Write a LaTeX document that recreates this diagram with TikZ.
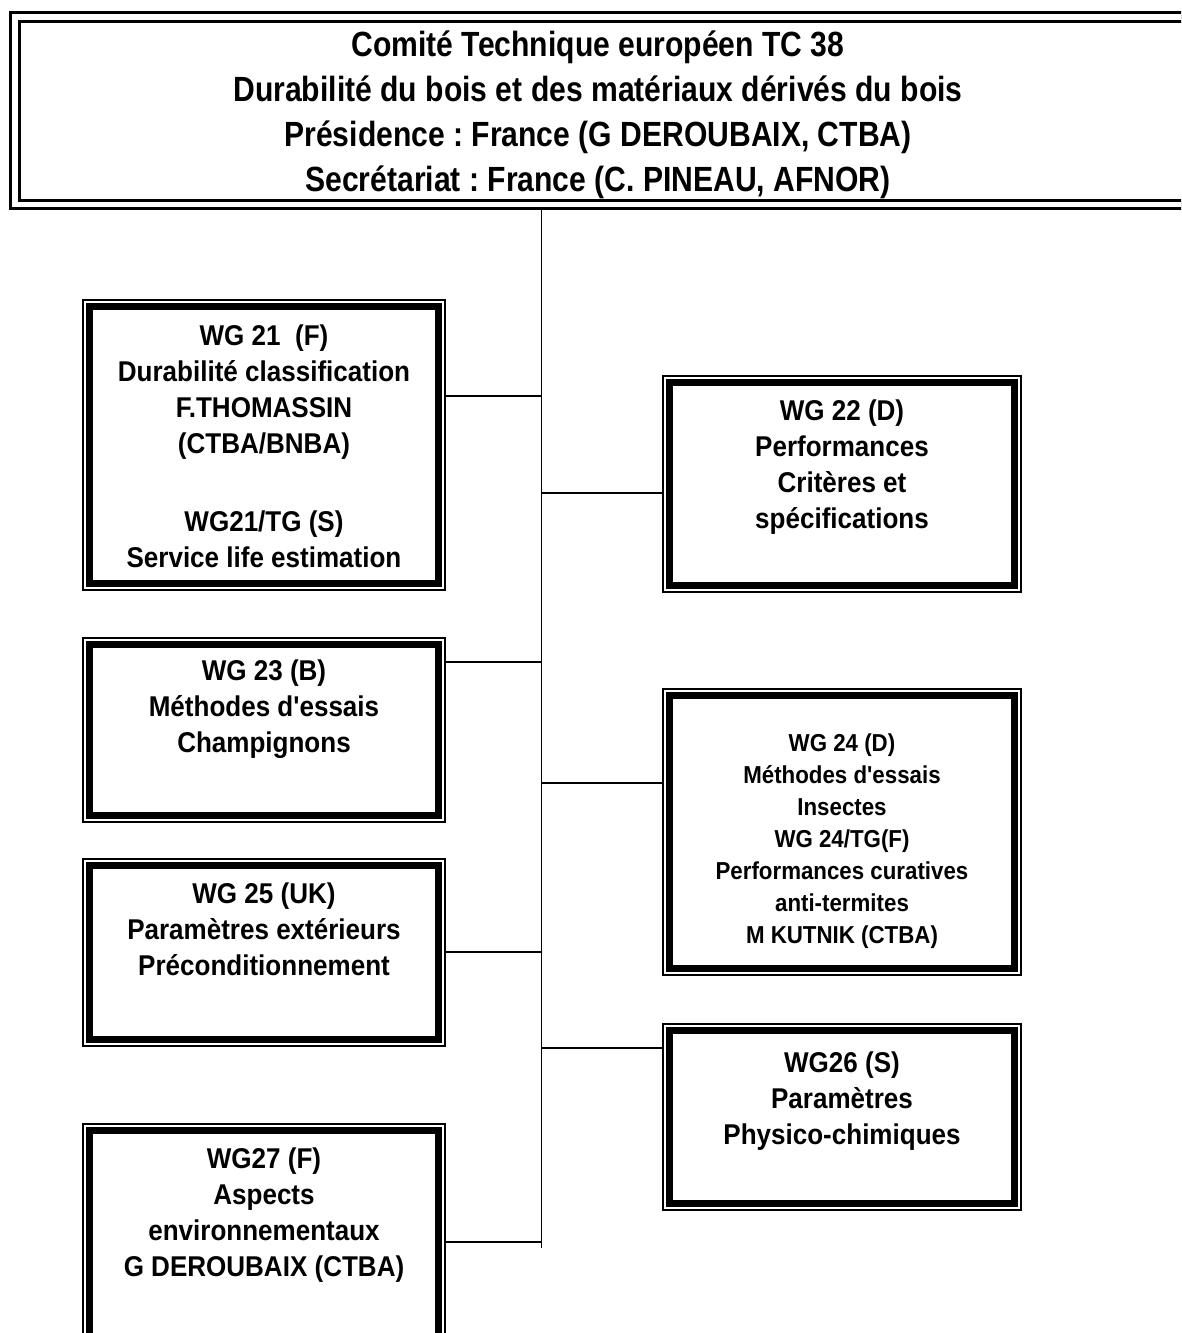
\documentclass[tikz,border=0pt]{standalone}
\usepackage{fontspec}
\newfontfamily\boxfont[FakeStretch=0.91]{Liberation Sans}
\newfontfamily\headfont[FakeStretch=0.86]{Liberation Sans}
\frenchspacing
\tikzset{
  wgbox/.style={draw, line width=7.7pt, inner sep=0pt, outer sep=7.55pt, minimum width=#1},
  wgbox/.default=348.9pt,
  rim/.style={line width=1.7pt},
  link/.style={line width=1.4pt},
  wgtext/.style={align=center, inner sep=0pt, anchor=north,
    font={\boxfont\bfseries\fontsize{28.6pt}{36pt}\selectfont}},
  wgsmall/.style={wgtext, font={\boxfont\bfseries\fontsize{24.5pt}{32pt}\selectfont}},
  headtext/.style={align=center, inner sep=0pt, anchor=north,
    font={\headfont\bfseries\fontsize{35pt}{45pt}\selectfont}}
}
\begin{document}
\begin{tikzpicture}[x=1pt, y=-1pt, line join=miter]
	\path[use as bounding box, clip] (0,0) rectangle (1181,1333);
	%%%%%%%%%%%%%%%%%%%%%%%%%%%%%%%%%
	\node[draw, double, line width=3.2pt, double distance=5.5pt, inner sep=0pt, outer sep=5.95pt,
	      minimum width=1180pt, minimum height=187.5pt] (tc38) at (604.8,110.75) {};
	\node[headtext] (tctext) at (598,31) {Comité Technique européen TC 38\\
		Durabilité du bois et des matériaux dérivés du bois\\
		Présidence : France (G DEROUBAIX, CTBA)\\
		Secrétariat : France (C. PINEAU, AFNOR)};
	%%%%%%%%%%%%%%%%%%%%%%%%%%%%%%%%%
	\node[wgbox, minimum height=276.9pt] (wg21) at (264,445) {};
	\node[wgbox=344.9pt, minimum height=202.9pt] (wg22) at (842,484) {};
	\node[wgbox, minimum height=170.9pt] (wg23) at (264,730) {};
	\node[wgbox=344.9pt, minimum height=272.9pt] (wg24) at (842,832) {};
	\node[wgbox, minimum height=173.9pt] (wg25) at (264,952.5) {};
	\node[wgbox=344.9pt, minimum height=172.9pt] (wg26) at (842,1117) {};
	\node[wgbox, minimum height=211.9pt] (wg27) at (264,1236.5) {};
	\foreach \n in {wg21,wg22,wg23,wg24,wg25,wg26,wg27}
		\draw[rim] ([shift={(0.85pt,-0.85pt)}]\n.north west) rectangle ([shift={(-0.85pt,0.85pt)}]\n.south east);
	%%%%%%%%%%%%%%%%%%%%%%%%%%%%%%%%%
	\node[wgtext] (t21) at ([yshift=-26pt]wg21.north) {WG 21~~(F)\\Durabilité classification\\F.THOMASSIN\\(CTBA/BNBA)\\[42pt]WG21/TG (S)\\Service life estimation};
	\node[wgtext] (t22) at ([yshift=-25pt]wg22.north) {WG 22 (D)\\Performances\\Critères et\\spécifications};
	\node[wgtext] (t23) at ([yshift=-23pt]wg23.north) {WG 23 (B)\\Méthodes d'essais\\Champignons};
	\node[wgsmall] (t24) at ([yshift=-46pt]wg24.north) {WG 24 (D)\\Méthodes d'essais\\Insectes\\WG 24/TG(F)\\Performances curatives\\anti-termites\\M KUTNIK (CTBA)};
	\node[wgtext] (t25) at ([yshift=-25pt]wg25.north) {WG 25 (UK)\\Paramètres extérieurs\\Préconditionnement};
	\node[wgtext] (t26) at ([yshift=-29pt]wg26.north) {WG26 (S)\\Paramètres\\Physico-chimiques};
	\node[wgtext] (t27) at ([yshift=-25pt]wg27.north) {WG27 (F)\\Aspects\\environnementaux\\G DEROUBAIX (CTBA)};
	%%%%%%%%%%%%%%%%%%%%%%%%%%%%%%%%%
	\coordinate (spine) at (541.5,1248);
	\coordinate (j21) at (541.5,396);
	\coordinate (j22) at (541.5,493);
	\coordinate (j23) at (541.5,662);
	\coordinate (j24) at (541.5,783);
	\coordinate (j25) at (541.5,952);
	\coordinate (j26) at (541.5,1048);
	\coordinate (j27) at (541.5,1242);
	\draw[link] (tc38.south -| spine) -- (spine);
	\draw[link] (j21) -- (j21 -| wg21.east);
	\draw[link] (j23) -- (j23 -| wg23.east);
	\draw[link] (j25) -- (j25 -| wg25.east);
	\draw[link] (j27) -- (j27 -| wg27.east);
	\draw[link] (j22) -- (j22 -| wg22.west);
	\draw[link] (j24) -- (j24 -| wg24.west);
	\draw[link] (j26) -- (j26 -| wg26.west);
	%%%%%%%%%%%%%%%%%%%%%%%%%%%%%%%%%
\end{tikzpicture}
\end{document}
